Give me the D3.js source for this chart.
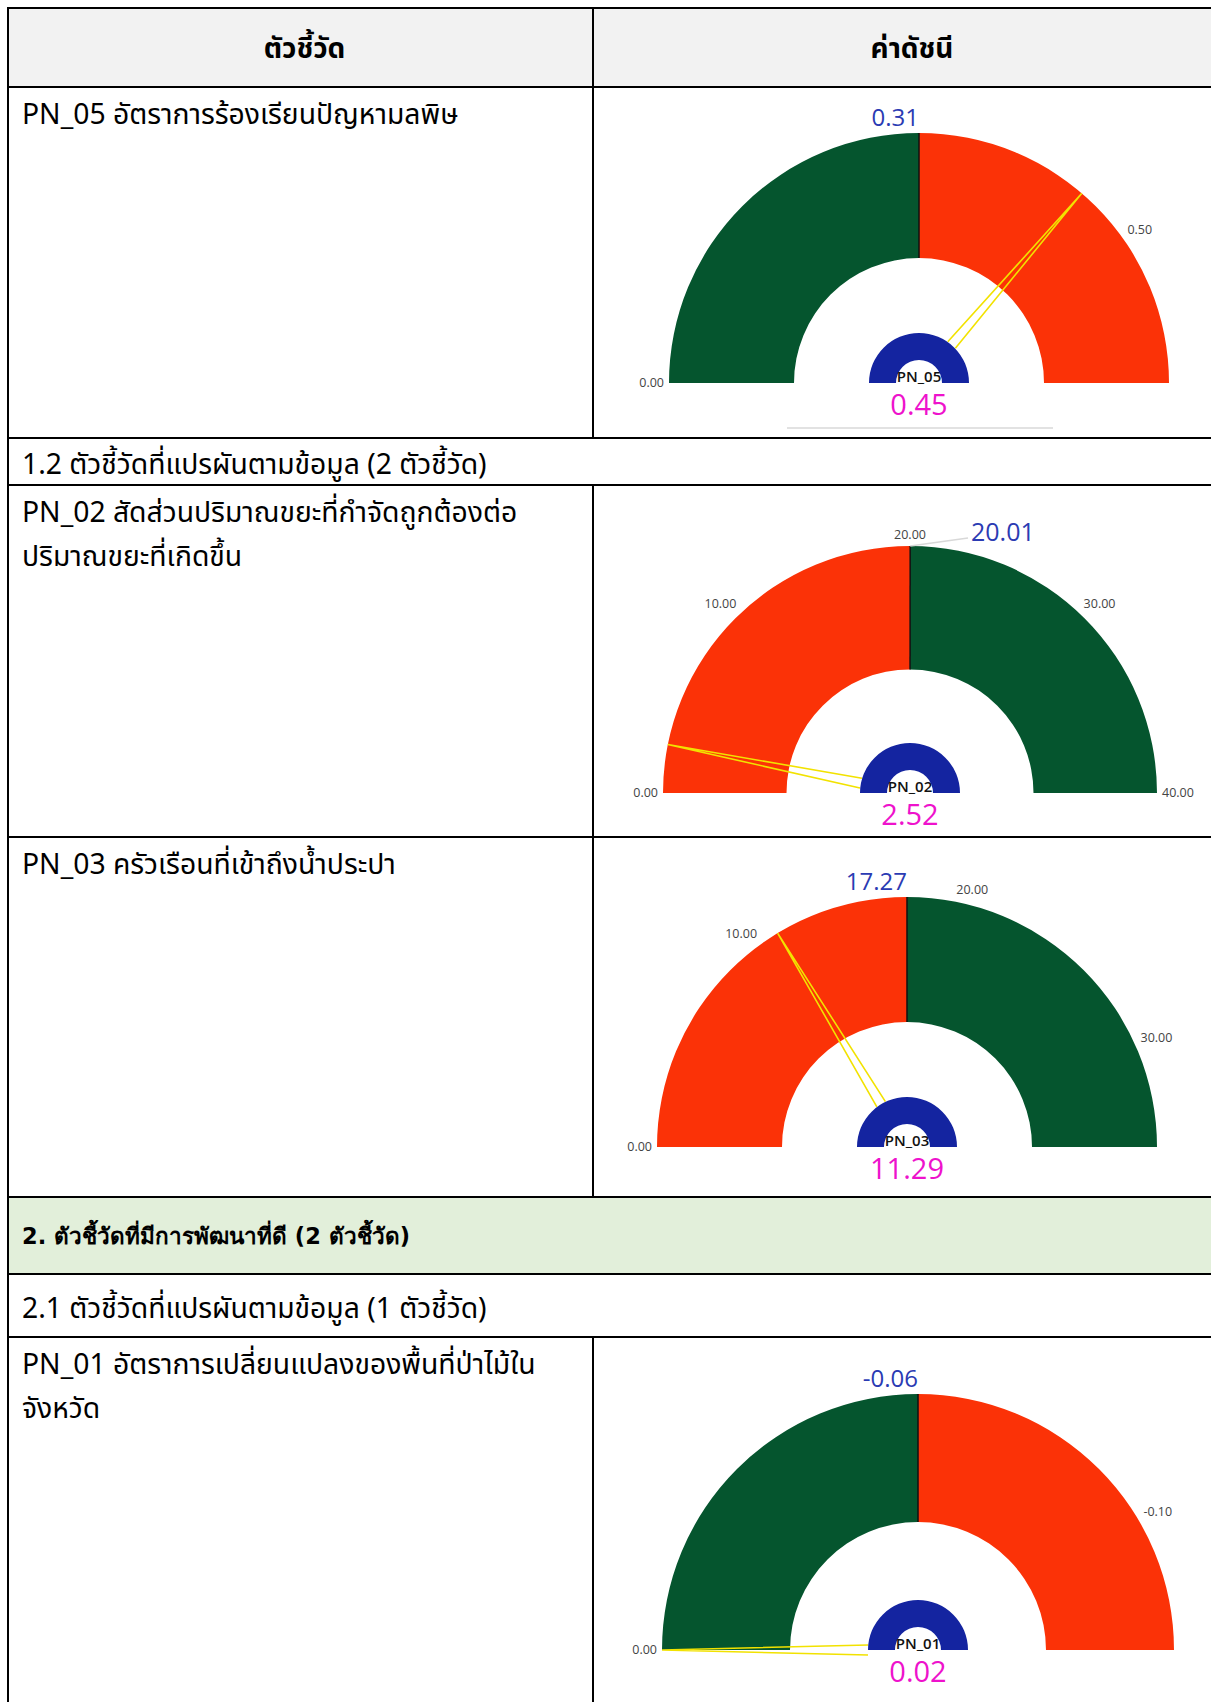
<!DOCTYPE html>
<html>
<head>
<meta charset="utf-8">
<script src="https://cdn.jsdelivr.net/npm/d3@7/dist/d3.min.js"></script>
<style>
  body { margin: 0; background: #fff; }
  svg { display: block; }
</style>
</head>
<body>
<div id="chart"></div>
<script>
// table texts
const headerLabels = ["ตัวชี้วัด", "ค่าดัชนี"];
const rowKinds = ["gauge", "section", "gauge", "gauge", "group", "section", "gauge"];
const rowLabels = [
  ["PN_05 อัตราการร้องเรียนปัญหามลพิษ"],
  ["1.2 ตัวชี้วัดที่แปรผันตามข้อมูล (2 ตัวชี้วัด)"],
  ["PN_02 สัดส่วนปริมาณขยะที่กำจัดถูกต้องต่อ", "ปริมาณขยะที่เกิดขึ้น"],
  ["PN_03 ครัวเรือนที่เข้าถึงน้ำประปา"],
  ["2. ตัวชี้วัดที่มีการพัฒนาที่ดี (2 ตัวชี้วัด)"],
  ["2.1 ตัวชี้วัดที่แปรผันตามข้อมูล (1 ตัวชี้วัด)"],
  ["PN_01 อัตราการเปลี่ยนแปลงของพื้นที่ป่าไม้ใน", "จังหวัด"]
];

// gauge values
const gaugeIds = ["PN_05", "PN_02", "PN_03", "PN_01"];
const gaugeMin = [0, 0, 0, 0];
const gaugeMax = [0.62, 40, 34.54, -0.12];
const gaugeTarget = [0.31, 20.01, 17.27, -0.06];
const gaugeValue = [0.45, 2.52, 11.29, 0.02];
const gaugeTicks = [[0, 0.5], [0, 10, 20, 30, 40], [0, 10, 20, 30], [0, -0.1]];
const firstBandGood = [true, false, false, true];

const W = 1211, H = 1702;
const GREEN = "#05552e", RED = "#fb3207", BLUE = "#1424a0";

// layout of the table (px)
const leftX = 8, splitX = 593;
const rowY = [8, 87, 438, 485, 837, 1197, 1274, 1337, 1760];
const gaugeBox = [
  {cx: 919, cy: 383, R: 250, label: "above"},
  {cx: 910, cy: 793, R: 247, label: "leader"},
  {cx: 907, cy: 1147, R: 250, label: "above"},
  {cx: 918, cy: 1650, R: 256, label: "above"}
];

const thaiFont = "'TH Sarabun New', 'Noto Sans Thai', 'Noto Sans', 'DejaVu Sans', sans-serif";
const numFont = "'Segoe UI', 'Open Sans', 'Noto Sans', sans-serif";

const svg = d3.select("#chart").append("svg")
  .attr("width", W)
  .attr("height", H);

svg.append("rect").attr("width", W).attr("height", H).attr("fill", "#fff");

// backgrounds
svg.append("rect")
  .attr("x", leftX).attr("y", rowY[0])
  .attr("width", W - leftX).attr("height", rowY[1] - rowY[0])
  .attr("fill", "#f2f2f2");
svg.append("rect")
  .attr("x", leftX).attr("y", rowY[5])
  .attr("width", W - leftX).attr("height", rowY[6] - rowY[5])
  .attr("fill", "#e2efda");

// header texts
svg.selectAll(".head")
  .data(headerLabels)
  .enter().append("text")
  .attr("class", "head")
  .attr("x", (d, i) => i == 0 ? (leftX + splitX) / 2 + 4 : 912)
  .attr("y", 58)
  .attr("text-anchor", "middle")
  .style("font-family", thaiFont)
  .style("font-weight", "bold")
  .style("font-size", "28px")
  .text(d => d);

// row texts
rowLabels.forEach((lines, i) => {
  const kind = rowKinds[i];
  const top = rowY[i + 1], mid = (rowY[i + 1] + rowY[i + 2]) / 2;
  lines.forEach((t, j) => {
    let y = top + 37 + j * 44;
    if (kind == "section") y = mid + 12;
    if (kind == "group") y = mid + 8;
    svg.append("text")
      .attr("x", 22)
      .attr("y", y)
      .style("font-family", kind == "group" ? "Tahoma, 'DejaVu Sans', sans-serif" : thaiFont)
      .style("font-weight", kind == "group" ? "bold" : "normal")
      .style("font-size", kind == "group" ? "22.5px" : "28.3px")
      .attr("fill", "#000")
      .text(t);
  });
});

// grid lines
const grid = svg.append("g").attr("stroke", "#000").attr("stroke-width", 2);
rowY.slice(0, -1).forEach(y => {
  grid.append("line").attr("x1", leftX - 1).attr("x2", W).attr("y1", y).attr("y2", y);
});
grid.append("line").attr("x1", leftX).attr("x2", leftX).attr("y1", rowY[0]).attr("y2", H);
// divider only in header and gauge rows
const splitRows = [0].concat(rowKinds.map((k, i) => k == "gauge" ? i + 1 : -1).filter(i => i >= 0));
splitRows.forEach(i => {
  grid.append("line").attr("x1", splitX).attr("x2", splitX)
    .attr("y1", rowY[i]).attr("y2", rowY[i + 1]);
});

// gauges
gaugeIds.forEach((id, i) => {
  const box = gaugeBox[i];
  const R = box.R, r = R * 0.5;
  const angle = d3.scaleLinear()
    .domain([gaugeMin[i], gaugeMax[i]])
    .range([-Math.PI / 2, Math.PI / 2])
    .clamp(true);
  const pt = (a, rad) => [rad * Math.sin(a), -rad * Math.cos(a)];
  const g = svg.append("g").attr("transform", `translate(${box.cx},${box.cy})`);

  const arc = d3.arc().innerRadius(r).outerRadius(R);
  const ta = angle(gaugeTarget[i]);
  g.append("path")
    .attr("d", arc({startAngle: -Math.PI / 2, endAngle: ta}))
    .attr("fill", firstBandGood[i] ? GREEN : RED);
  g.append("path")
    .attr("d", arc({startAngle: ta, endAngle: Math.PI / 2}))
    .attr("fill", firstBandGood[i] ? RED : GREEN);

  // target divider
  const p1 = pt(ta, r), p2 = pt(ta, R);
  g.append("line")
    .attr("x1", p1[0]).attr("y1", p1[1]).attr("x2", p2[0]).attr("y2", p2[1])
    .attr("stroke", "#111").attr("stroke-width", 1.5);

  // tick labels, pushed out by their own box size
  g.selectAll(".tick")
    .data(gaugeTicks[i])
    .enter().append("text")
    .attr("class", "tick")
    .attr("text-anchor", "middle")
    .attr("dy", "0.35em")
    .style("font-family", numFont)
    .style("font-size", "12.5px")
    .attr("fill", "#444")
    .text(d => d3.format(".2f")(d).replace("−", "-"))
    .each(function(d) {
      const bb = this.getBBox();
      const a = angle(d);
      const off = 5 + Math.abs(Math.sin(a)) * bb.width / 2 + Math.abs(Math.cos(a)) * bb.height / 2 * 0.8;
      const p = pt(a, R + off);
      d3.select(this).attr("x", p[0]).attr("y", p[1]);
    });

  // needle
  const va = angle(gaugeValue[i]);
  const tip = pt(va, R);
  const b = pt(va, 50);
  const off = [5 * Math.cos(va), 5 * Math.sin(va)];
  g.append("path")
    .attr("d", `M${b[0] + off[0]},${b[1] + off[1]}L${tip[0]},${tip[1]}L${b[0] - off[0]},${b[1] - off[1]}`)
    .attr("fill", "none")
    .attr("stroke", "#f2e200")
    .attr("stroke-width", 1.6);

  // centre hub
  g.append("path")
    .attr("d", d3.arc().innerRadius(23).outerRadius(50)({startAngle: -Math.PI / 2, endAngle: Math.PI / 2}))
    .attr("fill", BLUE);
  g.append("text")
    .attr("y", -1)
    .attr("text-anchor", "middle")
    .style("font-family", numFont)
    .style("font-weight", 600)
    .style("font-size", "15px")
    .attr("fill", "#111")
    .text(id);

  // value
  g.append("text")
    .attr("y", 32)
    .attr("text-anchor", "middle")
    .style("font-family", numFont)
    .style("font-size", "29px")
    .attr("fill", "#ee12cc")
    .text(d3.format(".2f")(gaugeValue[i]));

  // target label
  const tp = pt(ta, R);
  if (box.label == "leader") {
    g.append("line")
      .attr("x1", tp[0]).attr("y1", tp[1]).attr("x2", 58).attr("y2", -R - 8)
      .attr("stroke", "#d8d8d8").attr("stroke-width", 1.5);
    g.append("text")
      .attr("x", 61).attr("y", -R - 5)
      .style("font-family", numFont)
      .style("font-size", "25px")
      .attr("fill", "#2b3bb3")
      .text(d3.format(".2f")(gaugeTarget[i]));
  } else {
    g.append("text")
      .attr("x", tp[0]).attr("y", -R - 7)
      .attr("text-anchor", "end")
      .style("font-family", numFont)
      .style("font-size", "24px")
      .attr("fill", "#2b3bb3")
      .text(d3.format(".2f")(gaugeTarget[i]).replace("−", "-"));
  }
});

// faint scrollbar line under the first gauge
svg.append("line")
  .attr("x1", 787).attr("x2", 1053).attr("y1", 428).attr("y2", 428)
  .attr("stroke", "#e2e2e2").attr("stroke-width", 2);
</script>
</body>
</html>
